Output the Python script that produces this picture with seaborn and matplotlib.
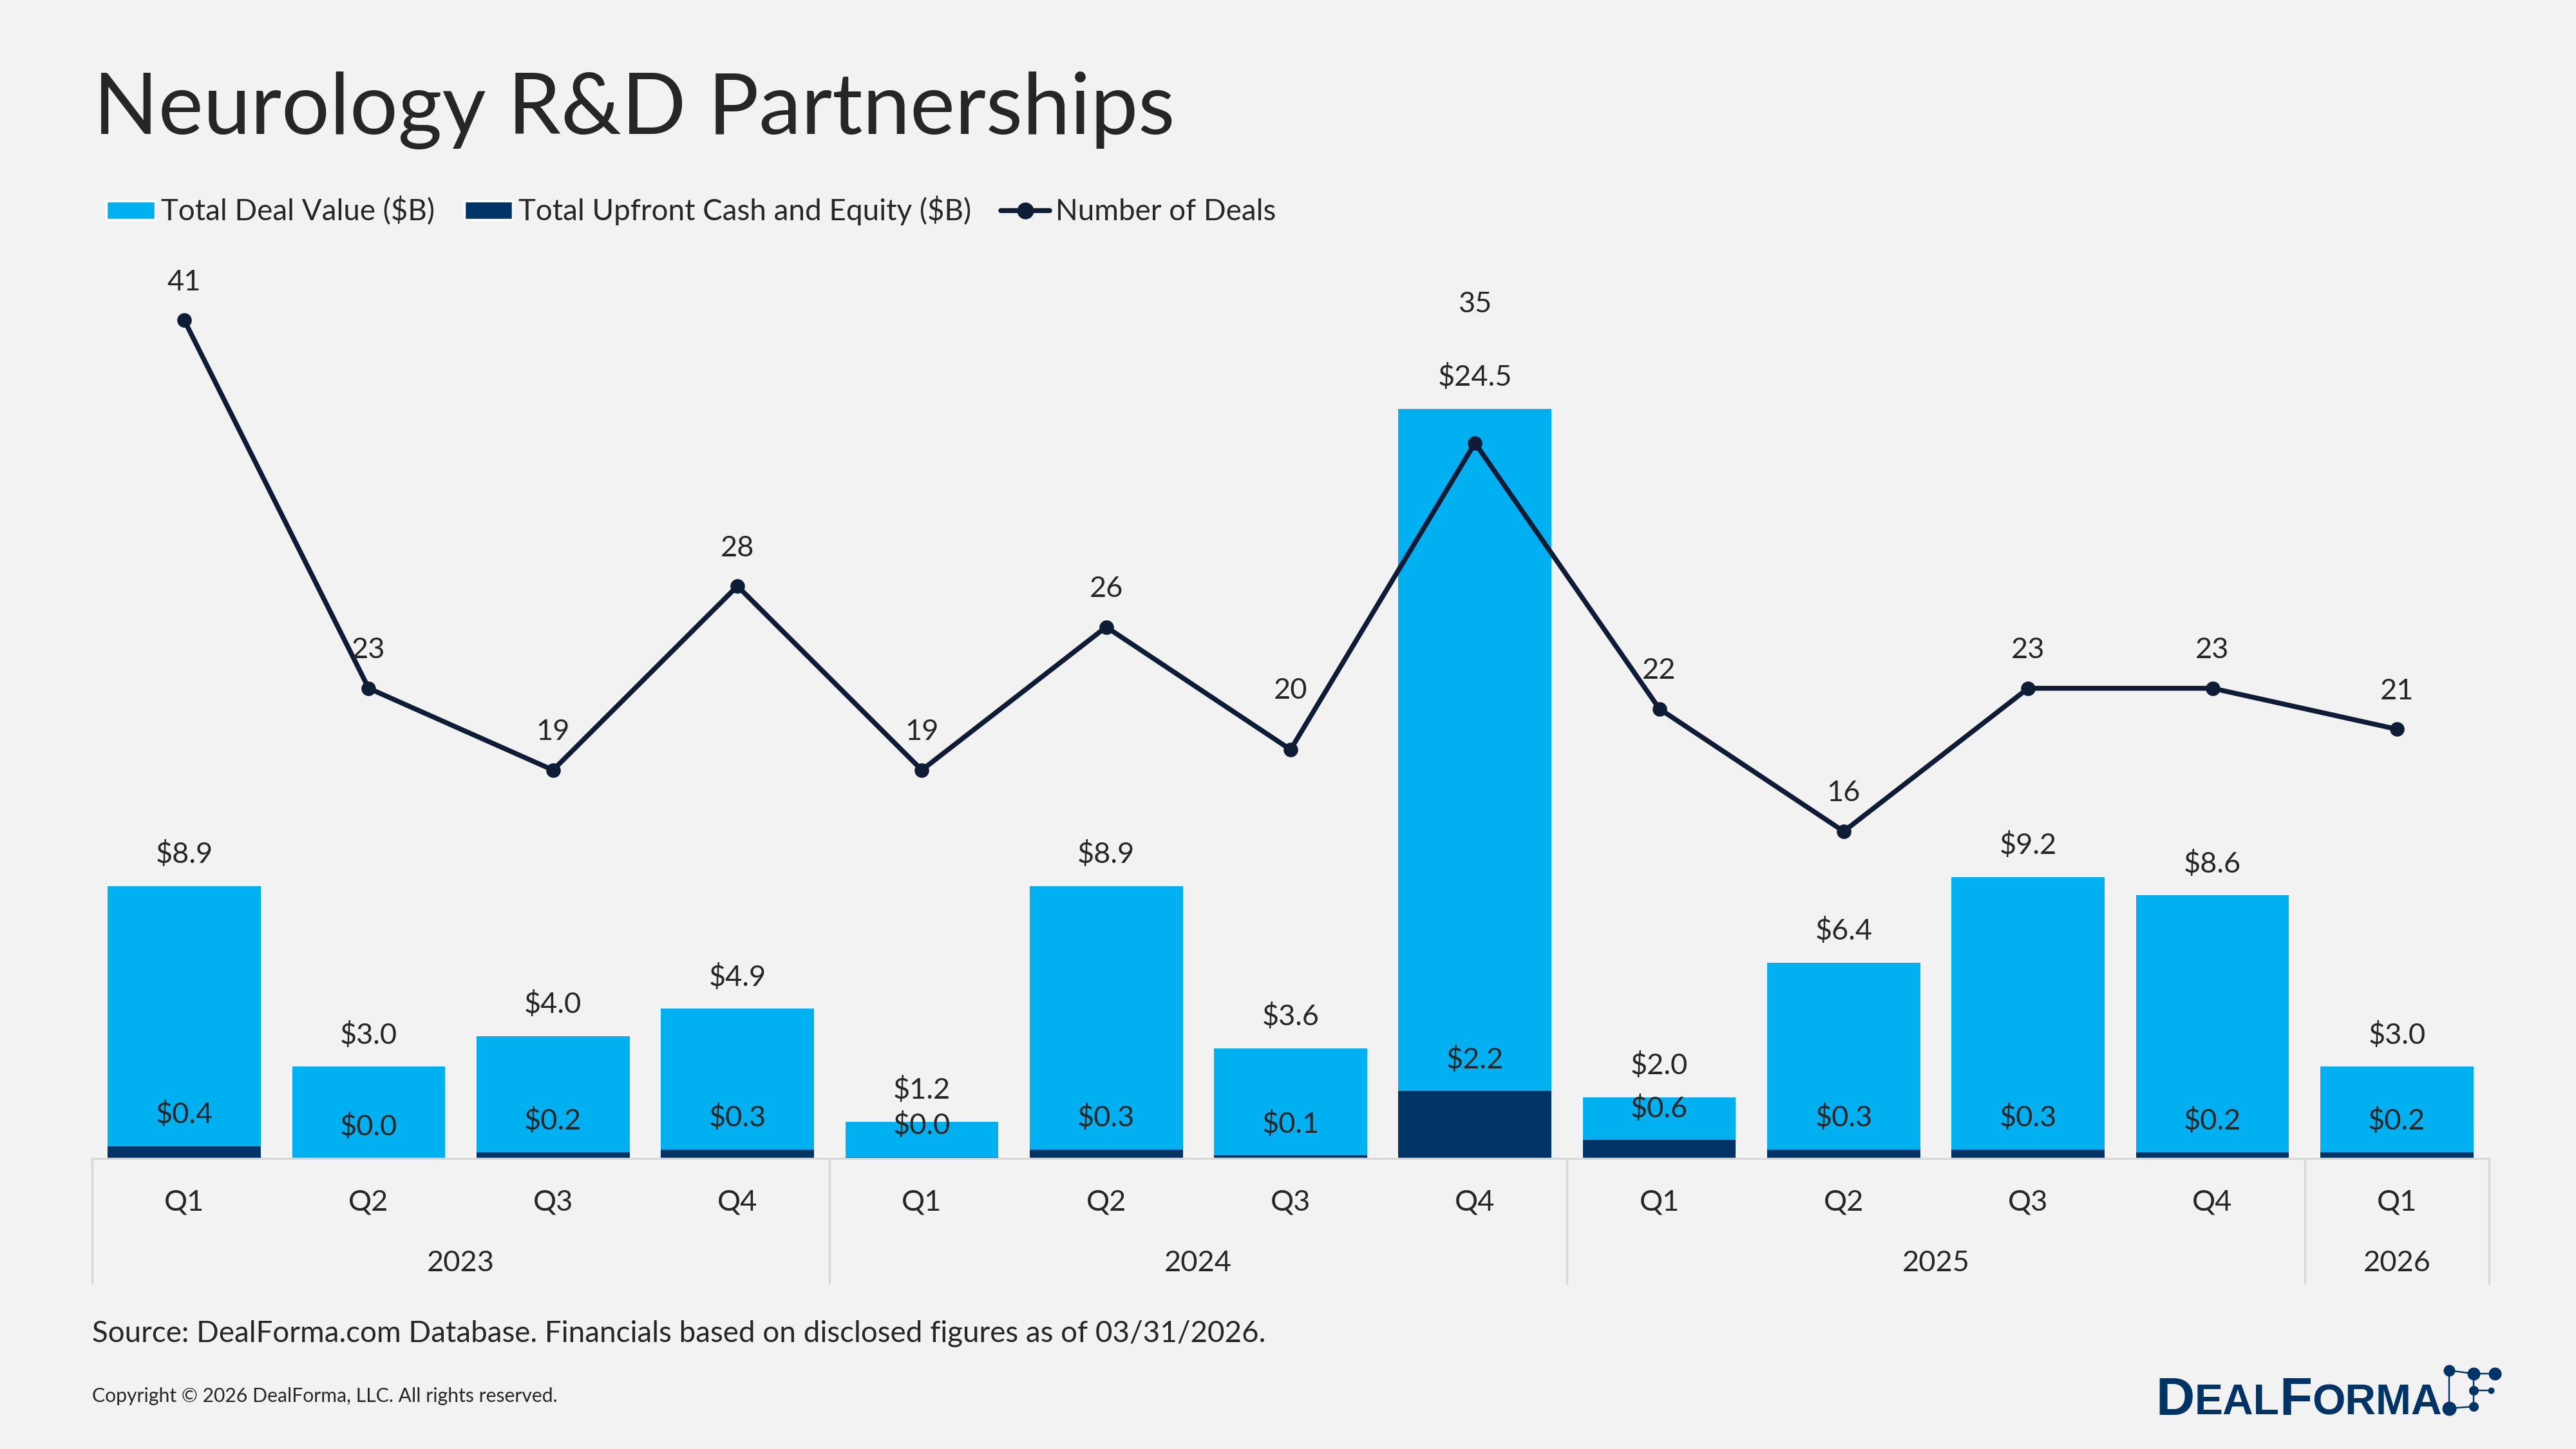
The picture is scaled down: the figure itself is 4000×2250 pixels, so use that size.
import pandas as pd
import seaborn as sns
import matplotlib.pyplot as plt
from matplotlib import transforms
from matplotlib.patches import Patch
from matplotlib.lines import Line2D

# data
quarters = ["Q1", "Q2", "Q3", "Q4", "Q1", "Q2", "Q3", "Q4", "Q1", "Q2", "Q3", "Q4", "Q1"]
years = ["2023"] * 4 + ["2024"] * 4 + ["2025"] * 4 + ["2026"]
total_value = [8.9, 3.0, 4.0, 4.9, 1.2, 8.9, 3.6, 24.5, 2.0, 6.4, 9.2, 8.6, 3.0]
upfront_value = [0.4, 0.0, 0.2, 0.3, 0.04, 0.3, 0.1, 2.2, 0.6, 0.3, 0.3, 0.2, 0.2]
num_deals = [41, 23, 19, 28, 19, 26, 20, 35, 22, 16, 23, 23, 21]

LIGHT = "#00B0F0"
DARK = "#003366"
LINE = "#0E1C36"
GRID = "#D9D9D9"
BG = "#F2F2F2"
W, H = 4000, 2250
FS = 13

sns.set_style("white")
plt.rcParams["font.family"] = ["Lato", "DejaVu Sans"]

df = pd.DataFrame({"pos": range(len(quarters)), "quarter": quarters, "year": years,
                   "total": total_value, "upfront": upfront_value, "deals": num_deals})

fig = plt.figure(figsize=(16, 9), dpi=250, facecolor=BG)
ax = fig.add_axes([143 / W, 1 - 1799 / H, (3865 - 143) / W, (1799 - 383) / H])
ax.set_facecolor("none")

sns.barplot(data=df, x="pos", y="total", color=LIGHT, width=0.83, saturation=1,
            errorbar=None, linewidth=0, ax=ax)
sns.barplot(data=df, x="pos", y="upfront", color=DARK, width=0.83, saturation=1,
            errorbar=None, linewidth=0, ax=ax)
ax.set_ylim(0, 29.8)

ax2 = ax.twinx()
sns.lineplot(data=df, x="pos", y="deals", ax=ax2, color=LINE, lw=2.2, marker="o",
             markersize=6.5, markeredgewidth=0)
ax2.set_ylim(0, 44.6)
ax.set_xlim(-0.5, len(quarters) - 0.5)
ax2.set_xlim(-0.5, len(quarters) - 0.5)

for a in (ax, ax2):
    a.set_xticks([])
    a.set_yticks([])
    a.set_xlabel("")
    a.set_ylabel("")
    for s in a.spines.values():
        s.set_visible(False)
ax.spines["bottom"].set_visible(True)
ax.spines["bottom"].set_color(GRID)
ax.spines["bottom"].set_linewidth(1.0)

# data labels
for i, (t, u) in enumerate(zip(total_value, upfront_value)):
    ax.annotate(f"${t:.1f}", (i, t), xytext=(0, 14), textcoords="offset points",
                ha="center", va="center", fontsize=FS)
    ax.annotate(f"${u:.1f}", (i, u), xytext=(0, 14), textcoords="offset points",
                ha="center", va="center", fontsize=FS)

line_offsets = {6: 26.5, 7: 62}
for i, d in enumerate(num_deals):
    ax2.annotate(str(d), (i, d), xytext=(0, line_offsets.get(i, 17)), textcoords="offset points",
                 ha="center", va="center", fontsize=FS)

# two-level category axis
trans = transforms.blended_transform_factory(ax.transData, ax.transAxes)
for i, q in enumerate(quarters):
    ax.text(i, -0.048, q, transform=trans, ha="center", va="center", fontsize=FS)
bounds = [-0.5]
for yr in dict.fromkeys(years):
    idx = [i for i, y in enumerate(years) if y == yr]
    ax.text(sum(idx) / len(idx), -0.115, yr, transform=trans, ha="center", va="center",
            fontsize=FS)
    bounds.append(idx[-1] + 0.5)
for b in bounds:
    ax.plot([b, b], [0, -0.137], transform=trans, color=GRID, lw=1, clip_on=False)

# title, legend, footer
fig.text(145 / W, 1 - 171 / H, "Neurology R&D Partnerships", fontsize=38, va="center")

handles = [Patch(facecolor=LIGHT, label="Total Deal Value ($B)"),
           Patch(facecolor=DARK, label="Total Upfront Cash and Equity ($B)"),
           Line2D([], [], color=LINE, lw=2.2, marker="o", markersize=6.5, label="Number of Deals")]
fig.legend(handles=handles, loc="center left", bbox_to_anchor=(165 / W, 1 - 327 / H), ncol=3,
           frameon=False, fontsize=13.2, handlelength=1.65, handleheight=0.6, handletextpad=0.2,
           columnspacing=1.0, borderpad=0, borderaxespad=0)

fig.text(143 / W, 1 - 2071 / H,
         "Source: DealForma.com Database. Financials based on disclosed figures as of 03/31/2026.",
         fontsize=13.2, va="center")
fig.text(143 / W, 1 - 2168 / H, "Copyright \u00a9 2026 DealForma, LLC. All rights reserved.",
         fontsize=8.7, va="center")

# logo
lf = dict(color=DARK, fontweight="bold", family="Liberation Sans")
t1 = fig.text(3347 / W, 1 - 2197 / H, "D", fontsize=24, va="baseline", **lf)
t2 = ax.annotate("EAL", xy=(1, 0), xycoords=t1, xytext=(0, 1.1), textcoords="offset points",
                 fontsize=19, va="bottom", annotation_clip=False, **lf)
t3 = ax.annotate("F", xy=(1, 0), xycoords=t2, xytext=(0, -1.1), textcoords="offset points",
                 fontsize=24, va="bottom", annotation_clip=False, **lf)
t4 = ax.annotate("ORMA", xy=(1, 0), xycoords=t3, xytext=(0, 1.1), textcoords="offset points",
                 fontsize=19, va="bottom", annotation_clip=False, **lf)

nodes = {"a": (3803, 2128, 18), "b": (3841, 2133, 20), "c": (3874, 2133, 20),
         "d": (3841, 2159, 15), "e": (3868, 2159, 10), "f": (3803, 2187, 22), "g": (3841, 2184, 15)}
edges = [("a", "b"), ("b", "c"), ("a", "f"), ("b", "d"), ("d", "g"), ("d", "e"), ("f", "g")]
for p, q in edges:
    fig.add_artist(Line2D([nodes[p][0] / W, nodes[q][0] / W], [1 - nodes[p][1] / H, 1 - nodes[q][1] / H],
                          transform=fig.transFigure, color=DARK, lw=0.7))
for x, y, d in nodes.values():
    fig.add_artist(Line2D([x / W], [1 - y / H], transform=fig.transFigure, marker="o",
                          markersize=d * 72 / 250, color=DARK, markeredgewidth=0))

fig.savefig("out.png", dpi=250, facecolor=BG)
